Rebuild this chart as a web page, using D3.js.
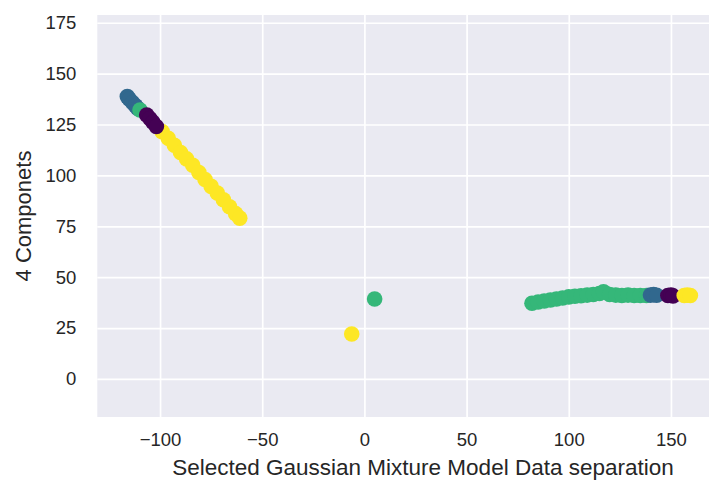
<!DOCTYPE html>
<html>
<head>
<meta charset="utf-8">
<script src="https://cdn.jsdelivr.net/npm/d3@7"></script>
<style>
  body { margin: 0; background: #fff; }
  svg text { font-family: "Liberation Sans", Arial, sans-serif; fill: #262626; }
</style>
</head>
<body>
<script>
// points in drawing order: x, y, cluster id (0 purple, 1 blue, 2 green, 3 yellow)
let xs = [
  -99, -96, -93, -90, -87, -84, -81, -78, -75, -72, -69, -66, -63, -61,
  -116, -115, -113.5, -112, -111,
  -109.8,
  -106.5, -105, -103.5, -101.8,
  82, 85, 88, 91, 94, 97, 100, 103, 106, 109, 112, 115, 117, 120, 123, 126, 129, 132, 135, 138,
  5,
  140, 141.5, 143,
  148.5, 150, 151,
  -6.2,
  156.5, 158, 159.5
];
let ys = [
  121.5, 118.2, 114.8, 111.2, 108.1, 105, 101.4, 98.0, 94.6, 91.3, 88.0, 84.6, 81.2, 79.0,
  138.7, 137.4, 135.8, 134.2, 133,
  132.1,
  129.7, 127.9, 126.1, 124,
  37.2, 37.8, 38.3, 38.8, 39.3, 39.8, 40.3, 40.6, 40.9, 41.2, 41.5, 42, 42.8, 41.5, 41.2, 41, 41.2, 41, 41, 41,
  39.3,
  41.2, 41.4, 41.1,
  41, 41.2, 40.8,
  22.1,
  41, 41.2, 41
];
let labels = [
  3, 3, 3, 3, 3, 3, 3, 3, 3, 3, 3, 3, 3, 3,
  1, 1, 1, 1, 1,
  2,
  0, 0, 0, 0,
  2, 2, 2, 2, 2, 2, 2, 2, 2, 2, 2, 2, 2, 2, 2, 2, 2, 2, 2, 2,
  2,
  1, 1, 1,
  0, 0, 0,
  3,
  3, 3, 3
];
let palette = ['#440154', '#31688e', '#35b779', '#fde725'];
let xTicks = [-100, -50, 0, 50, 100, 150];
let yTicks = [0, 25, 50, 75, 100, 125, 150, 175];

let width = 709;
let height = 481;
let padLeft = 97.3, padRight = 720, padTop = 15, padBottom = 417;

let svg = d3.select('body')
            .append('svg')
            .attr('width', width)
            .attr('height', height)

let xScale = d3.scaleLinear()
                .domain([-130.7, 174])
                .range([padLeft, padRight])

let yScale = d3.scaleLinear()
                .domain([-18.7, 178.8])
                .range([padBottom, padTop])

svg.append('rect')
    .attr('x', padLeft)
    .attr('y', padTop)
    .attr('width', padRight - padLeft)
    .attr('height', padBottom - padTop)
    .attr('fill', '#eaeaf2')

// grid
svg.append('g')
    .attr('transform', 'translate(0,' + padBottom + ')')
    .call(d3.axisBottom(xScale).tickValues(xTicks).tickSize(-(padBottom - padTop)).tickFormat(''))
svg.append('g')
    .attr('transform', 'translate(' + padLeft + ',0)')
    .call(d3.axisLeft(yScale).tickValues(yTicks).tickSize(-(padRight - padLeft)).tickFormat(''))
svg.selectAll('.domain').remove()
svg.selectAll('.tick line').attr('stroke', '#fff').attr('stroke-width', 1.7)

// tick labels
let xAxis = svg.append('g')
    .attr('transform', 'translate(0,' + padBottom + ')')
    .call(d3.axisBottom(xScale).tickValues(xTicks).tickSize(0).tickPadding(16))
let yAxis = svg.append('g')
    .attr('transform', 'translate(' + padLeft + ',0)')
    .call(d3.axisLeft(yScale).tickValues(yTicks).tickSize(0).tickPadding(21))
xAxis.select('.domain').remove()
yAxis.select('.domain').remove()
svg.selectAll('g text').style('font-size', '18.5px').attr('fill', '#262626')

// points
svg.append('g')
    .selectAll('circle')
    .data(xs)
    .enter()
    .append('circle')
    .attr('cx', (d, i) => xScale(xs[i]))
    .attr('cy', (d, i) => yScale(ys[i]))
    .attr('r', 7.8)
    .attr('fill', (d, i) => palette[labels[i]])

svg.append('text')
    .attr('x', 423)
    .attr('y', 475)
    .attr('text-anchor', 'middle')
    .style('font-size', '22.5px')
    .text('Selected Gaussian Mixture Model Data separation')

svg.append('text')
    .attr('transform', 'translate(31,' + ((padTop + padBottom) / 2) + ') rotate(-90)')
    .attr('text-anchor', 'middle')
    .style('font-size', '22px')
    .text('4 Componets')
</script>
</body>
</html>
